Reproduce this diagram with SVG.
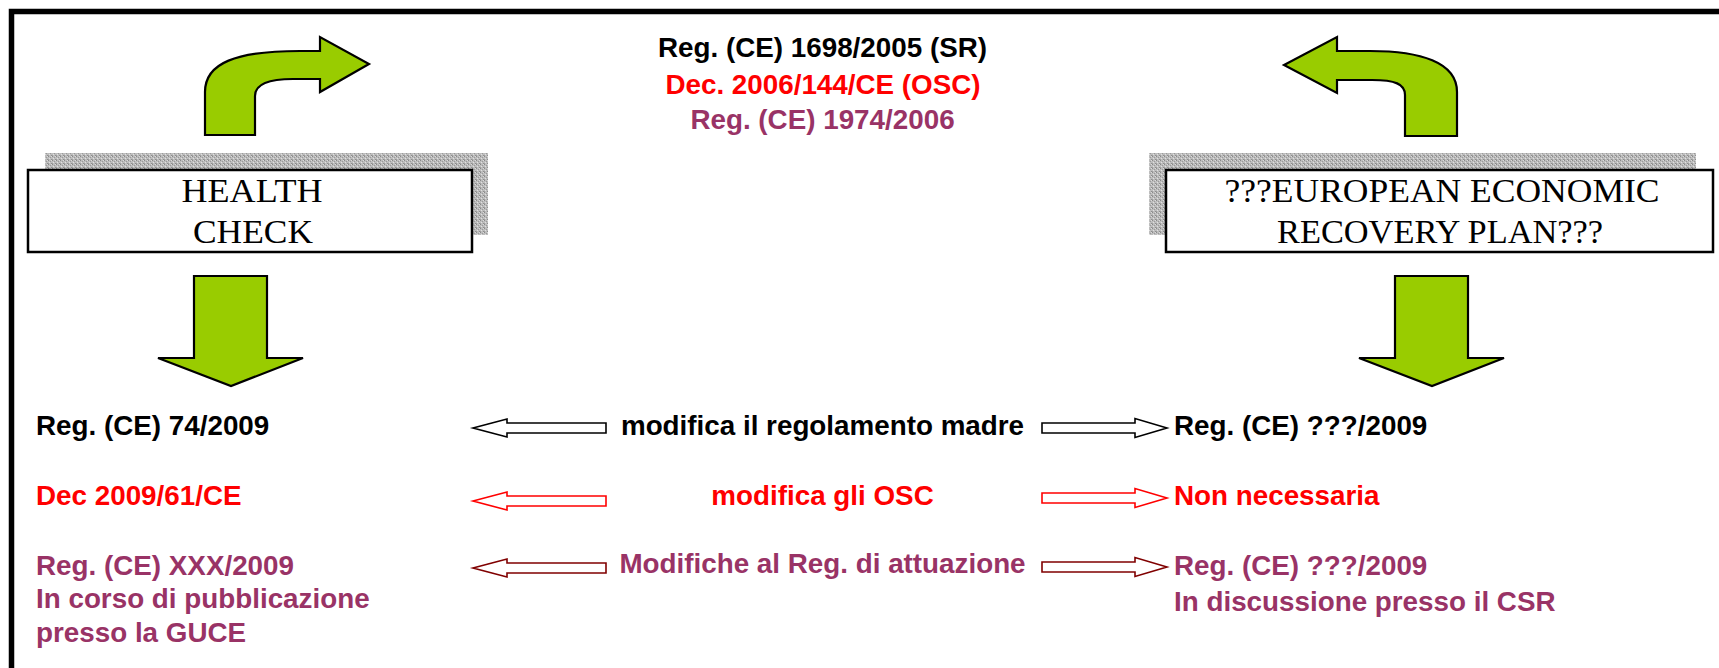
<svg xmlns="http://www.w3.org/2000/svg" width="1719" height="668" viewBox="0 0 1719 668">
<style>
.sans{font-family:"Liberation Sans",Arial,sans-serif;font-weight:bold;font-size:27.8px}
.mid{text-anchor:middle}
.serif{font-family:"Liberation Serif","Times New Roman",serif;font-size:34px;fill:#000;text-anchor:middle}
.k{fill:#000}.r{fill:#FF0000}.p{fill:#993366}
.green{fill:#99CC00;stroke:#000;stroke-width:2.2;stroke-linejoin:miter}
.box{fill:#fff;stroke:#000;stroke-width:2.5}
.hollow{fill:#fff;stroke-width:1.6}
</style>
<defs>
<pattern id="speck" width="4" height="4" patternUnits="userSpaceOnUse">
<rect width="4" height="4" fill="#bdbdbd"/>
<rect x="0" y="0" width="1" height="1" fill="#8a8a8a"/>
<rect x="2" y="1" width="1" height="1" fill="#9a9a9a"/>
<rect x="1" y="2" width="1" height="1" fill="#e0e0e0"/>
<rect x="3" y="3" width="1" height="1" fill="#8e8e8e"/>
<rect x="3" y="0" width="1" height="1" fill="#dadada"/>
<rect x="0" y="3" width="1" height="1" fill="#a0a0a0"/>
</pattern>
<path id="la" d="M473,0 L507,-9 L507,-5 L606,-5 L606,5 L507,5 L507,9 Z"/>
<path id="ra" d="M1167,0 L1135,-9.5 L1135,-5 L1042,-5 L1042,5 L1135,5 L1135,9.5 Z"/>
</defs>
<rect width="1719" height="668" fill="#fff"/>
<!-- frame -->
<path d="M11.5,668 L11.5,11.5 L1719,11.5" fill="none" stroke="#000" stroke-width="5.5"/>

<g id="top-refs">
<text class="sans mid k" x="822.5" y="57">Reg. (CE) 1698/2005 (SR)</text>
<text class="sans mid r" x="823" y="94">Dec. 2006/144/CE (OSC)</text>
<text class="sans mid p" x="822.5" y="129">Reg. (CE) 1974/2006</text>
</g>

<g id="health-check">
<rect x="45" y="153" width="443" height="82" fill="url(#speck)"/>
<rect class="box" x="28" y="170" width="444" height="82"/>
<text class="serif" x="252" y="202" textLength="141" lengthAdjust="spacingAndGlyphs">HEALTH</text>
<text class="serif" x="253" y="243" textLength="120" lengthAdjust="spacingAndGlyphs">CHECK</text>
</g>

<g id="eerp">
<rect x="1149" y="153" width="547" height="82" fill="url(#speck)"/>
<rect class="box" x="1166" y="170" width="547" height="82"/>
<text class="serif" x="1442" y="202" textLength="435" lengthAdjust="spacingAndGlyphs">???EUROPEAN ECONOMIC</text>
<text class="serif" x="1440" y="243" textLength="326" lengthAdjust="spacingAndGlyphs">RECOVERY PLAN???</text>
</g>

<g id="green-arrows">
<path class="green" d="M205,135 L205,92 C205,63 236,51 300,51 L320,51 L320,37 L369,64 L320,92 L320,79 L293,79 C269,79 255,84 255,96 L255,135 Z"/>
<path class="green" d="M1457,136 L1457,92 C1457,62 1420,51 1370,51 L1337,51 L1337,37 L1284,65 L1337,93 L1337,80 L1372,80 C1395,80 1405,84 1405,95 L1405,136 Z"/>
<path class="green" d="M194,276 L267,276 L267,358 L303,358 L231,386 L158,358 L194,358 Z"/>
<path class="green" d="M1395,276 L1468,276 L1468,358 L1504,358 L1432,386 L1359,358 L1395,358 Z"/>
</g>

<g id="left-col">
<text class="sans k" x="36" y="435">Reg. (CE) 74/2009</text>
<text class="sans r" x="36" y="505">Dec 2009/61/CE</text>
<text class="sans p" x="36" y="575">Reg. (CE) XXX/2009</text>
<text class="sans p" x="36" y="608">In corso di pubblicazione</text>
<text class="sans p" x="36" y="642">presso la GUCE</text>
</g>

<g id="mid-col">
<text class="sans mid k" x="822.5" y="435">modifica il regolamento madre</text>
<text class="sans mid r" x="822.5" y="505">modifica gli OSC</text>
<text class="sans mid p" x="822.5" y="573">Modifiche al Reg. di attuazione</text>
</g>

<g id="right-col">
<text class="sans k" x="1174" y="435">Reg. (CE) ???/2009</text>
<text class="sans r" x="1174" y="505">Non necessaria</text>
<text class="sans p" x="1174" y="575">Reg. (CE) ???/2009</text>
<text class="sans p" x="1174" y="611">In discussione presso il CSR</text>
</g>

<g id="connectors">
<use href="#la" class="hollow" stroke="#000" transform="translate(0,428)"/>
<use href="#ra" class="hollow" stroke="#000" transform="translate(0,428)"/>
<use href="#la" class="hollow" stroke="#FF0000" transform="translate(0,501)"/>
<use href="#ra" class="hollow" stroke="#FF0000" transform="translate(0,498)"/>
<use href="#la" class="hollow" stroke="#800000" transform="translate(0,568)"/>
<use href="#ra" class="hollow" stroke="#800000" transform="translate(0,567)"/>
</g>
</svg>
